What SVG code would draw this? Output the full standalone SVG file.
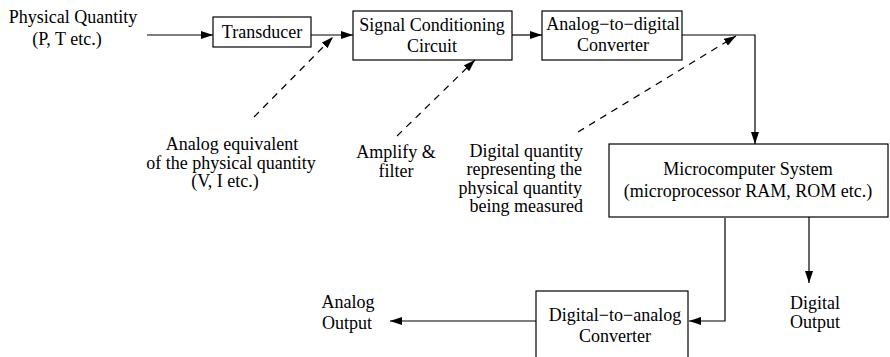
<svg xmlns="http://www.w3.org/2000/svg" width="890" height="357" viewBox="0 0 890 357">
<style>
.t text{font-size:18px;fill:#000;text-anchor:middle}
.box{fill:#fff;stroke:#000;stroke-width:1.2}
.ln{fill:none;stroke:#000;stroke-width:1.2}
.dash{fill:none;stroke:#000;stroke-width:1.2;stroke-dasharray:7 6}
</style>
<defs>
<marker id="ah" viewBox="0 0 12 8" refX="12" refY="4" markerWidth="12" markerHeight="8" markerUnits="userSpaceOnUse" orient="auto">
<path d="M0,0 L12,4 L0,8 Z" fill="#000"/>
</marker>
</defs>
<g class="t" font-family="'Liberation Serif', 'DejaVu Serif', serif">
<g id="input-label">
<text x="73" y="23">Physical Quantity</text>
<text x="67" y="45">(P, T etc.)</text>
</g>
<g id="transducer">
<rect class="box" x="213" y="17" width="98" height="30"/>
<text x="262" y="38">Transducer</text>
</g>
<g id="signal-conditioning">
<rect class="box" x="353" y="11" width="159" height="49"/>
<text x="432" y="31">Signal Conditioning</text>
<text x="432" y="52">Circuit</text>
</g>
<g id="adc">
<rect class="box" x="542" y="11" width="140" height="49"/>
<text x="613" y="30">Analog−to−digital</text>
<text x="613" y="51">Converter</text>
</g>
<g id="microcomputer">
<rect class="box" x="609" y="144" width="279" height="73"/>
<text x="748" y="175">Microcomputer System</text>
<text x="748" y="197">(microprocessor RAM, ROM etc.)</text>
</g>
<g id="dac">
<rect class="box" x="536" y="291" width="152" height="80"/>
<text x="615" y="321">Digital−to−analog</text>
<text x="615" y="342">Converter</text>
</g>
<g id="label-analog-equivalent">
<text x="232" y="150">Analog equivalent</text>
<text x="231" y="168.5">of the physical quantity</text>
<text x="225" y="187">(V, I etc.)</text>
</g>
<g id="label-amplify">
<text x="396" y="158">Amplify &amp;</text>
<text x="396" y="177">filter</text>
</g>
<g id="label-digital-quantity">
<text x="583" y="156.5" style="text-anchor:end">Digital quantity</text>
<text x="582" y="175" style="text-anchor:end">representing the</text>
<text x="582" y="193.5" style="text-anchor:end">physical quantity</text>
<text x="583" y="212" style="text-anchor:end">being measured</text>
</g>
<g id="label-analog-output">
<text x="348" y="308">Analog</text>
<text x="347" y="329">Output</text>
</g>
<g id="label-digital-output">
<text x="815" y="309">Digital</text>
<text x="815" y="328">Output</text>
</g>
</g>
<g id="connectors">
<line class="ln" x1="147" y1="35" x2="213" y2="35" marker-end="url(#ah)"/>
<line class="ln" x1="311" y1="35" x2="353" y2="35" marker-end="url(#ah)"/>
<line class="ln" x1="512" y1="35" x2="542" y2="35" marker-end="url(#ah)"/>
<polyline class="ln" points="682,35 755,35 755,144" marker-end="url(#ah)"/>
<polyline class="ln" points="725,218 725,321 689,321" marker-end="url(#ah)"/>
<line class="ln" x1="809" y1="217" x2="809" y2="283" marker-end="url(#ah)"/>
<line class="ln" x1="536" y1="321" x2="390" y2="321" marker-end="url(#ah)"/>
<line class="dash" x1="254" y1="117" x2="333" y2="37" marker-end="url(#ah)"/>
<line class="dash" x1="397" y1="136" x2="475" y2="60" marker-end="url(#ah)"/>
<line class="dash" x1="578" y1="132" x2="736" y2="36" marker-end="url(#ah)"/>
</g>
</svg>
